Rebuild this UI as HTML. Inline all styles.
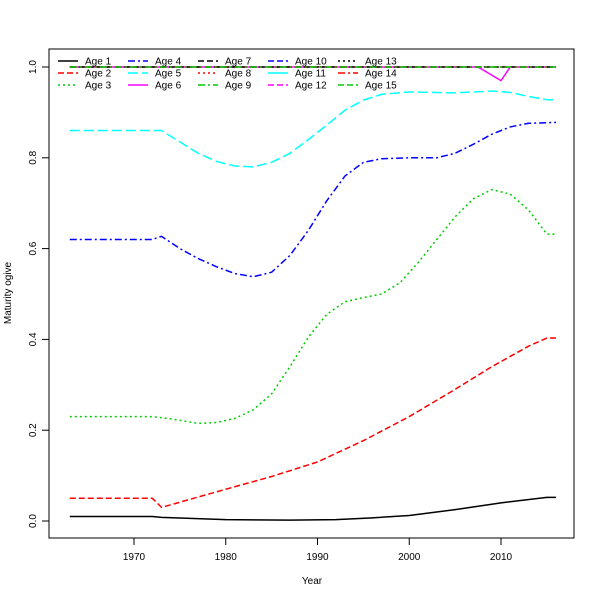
<!DOCTYPE html>
<html><head><meta charset="utf-8"><style>body{margin:0;background:#fff}svg{display:block}text{font-family:"Liberation Sans",sans-serif;font-size:10px}</style></head>
<body>
<svg id="s" width="600" height="600" xmlns="http://www.w3.org/2000/svg">
<rect width="600" height="600" fill="#fff"/>
<rect x="49" y="49" width="525" height="489" fill="none" stroke="#000" stroke-width="1"/>
<g id="g"></g>
<text x="312" y="584" text-anchor="middle">Year</text>
<text transform="translate(11,293) rotate(-90)" text-anchor="middle">Maturity ogive</text>
</svg>
<script>
const g=document.getElementById('g');const NS="http://www.w3.org/2000/svg";
const X=y=>134+(y-1970)*9.175, Y=v=>521-v*454;
function el(t,a,txt){const e=document.createElementNS(NS,t);for(const k in a)e.setAttribute(k,a[k]);if(txt!==undefined)e.textContent=txt;g.appendChild(e);return e;}
for(let yr=1970;yr<=2010;yr+=10){el('line',{x1:X(yr),x2:X(yr),y1:538,y2:545,stroke:'#000'});el('text',{x:X(yr),y:560,'text-anchor':'middle'},String(yr));}
for(let i=0;i<=5;i++){const v=i*0.2,y=Y(v);el('line',{x1:42,x2:49,y1:y,y2:y,stroke:'#000'});el('text',{transform:`translate(36,${y}) rotate(-90)`,'text-anchor':'middle'},v.toFixed(1));}
function line(pts,col,dash){el('polyline',{points:pts.map(p=>X(p[0])+','+Y(p[1])).join(' '),fill:'none',stroke:col,'stroke-width':1.5,'stroke-dasharray':dash||'none','stroke-linejoin':'round'});}
line([[1963,.01],[1972,.01],[1973,.008],[1980,.003],[1987,.002],[1992,.003],[1996,.007],[2000,.012],[2005,.025],[2010,.04],[2015,.052],[2016,.052]],'#000');
line([[1963,.05],[1972,.05],[1973,.03],[1980,.07],[1985,.098],[1990,.13],[1995,.177],[2000,.23],[2005,.29],[2009,.34],[2013,.385],[2015,.403],[2016,.403]],'#f00','6,3');
line([[1963,.23],[1972,.23],[1974,.225],[1977,.215],[1979,.217],[1981,.226],[1983,.245],[1985,.28],[1987,.34],[1989,.405],[1991,.455],[1993,.483],[1995,.492],[1997,.5],[1999,.525],[2001,.57],[2003,.62],[2005,.67],[2007,.71],[2009,.73],[2011,.72],[2013,.685],[2015,.632],[2016,.632]],'#0c0','2,3');
line([[1963,.62],[1972,.62],[1973,.627],[1975,.6],[1977,.578],[1979,.56],[1981,.545],[1983,.538],[1985,.548],[1987,.585],[1989,.64],[1991,.705],[1993,.76],[1995,.79],[1997,.798],[2000,.8],[2003,.8],[2005,.81],[2007,.83],[2009,.852],[2011,.868],[2013,.876],[2016,.878]],'#00f','7,3,2,3');
line([[1963,.86],[1973,.86],[1975,.835],[1977,.81],[1979,.792],[1981,.782],[1983,.78],[1985,.79],[1987,.81],[1989,.84],[1991,.872],[1993,.905],[1995,.927],[1997,.94],[2000,.945],[2005,.943],[2009,.947],[2011,.944],[2013,.935],[2015,.928],[2016,.928]],'#0ff','10,4');
line([[1963,1],[2007.5,1],[2010,.97],[2011,1],[2016,1]],'#f0f');
line([[1963,1],[2016,1]],'#000','6,3');
line([[1963,1],[2016,1]],'#f00','2,3');
line([[1963,1],[2016,1]],'#0c0','7,3,2,3');
const cols=[[58,85],[128,155],[198,225],[268,295],[338,365]];
const L=[['#000','none'],['#f00','6,3'],['#0c0','2,3'],['#00f','7,3,2,3'],['#0ff','10,4'],['#f0f','none'],['#000','6,3'],['#f00','2,3'],['#0c0','7,3,2,3'],['#00f','6,3'],['#0ff','none'],['#f0f','6,3'],['#000','2,3'],['#f00','7,3,2,3'],['#0c0','6,3']];
L.forEach((s,i)=>{const c=Math.floor(i/3),r=i%3,y=61+r*12;const [lx,tx]=cols[c];
el('line',{x1:lx,x2:lx+20,y1:y,y2:y,stroke:s[0],'stroke-width':1.5,'stroke-dasharray':s[1]});
el('text',{x:tx,y:y+3.5},'Age '+(i+1));});
</script>
</body></html>
